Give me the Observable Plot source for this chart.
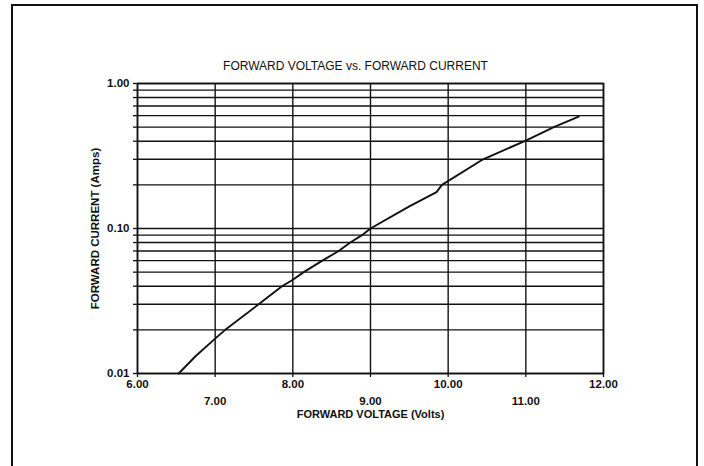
<!DOCTYPE html>
<html>
<head>
<meta charset="utf-8">
<script src="https://cdn.jsdelivr.net/npm/d3@7"></script>
<script src="https://cdn.jsdelivr.net/npm/@observablehq/plot@0.6"></script>
<style>
  html, body { margin: 0; padding: 0; background: #fff; }
  #wrap { position: relative; width: 704px; height: 466px; overflow: hidden; }
  #border { position: absolute; left: 11px; top: 4px; width: 687px; height: 480px; border: 2px solid #111; box-sizing: border-box; pointer-events: none; }
  svg { font-family: "Liberation Sans", Arial, sans-serif; }
</style>
</head>
<body>
<div id="wrap"><div id="border"></div></div>
<script>
// Data
const voltage = [6.53, 6.75, 7.0, 7.13, 7.56, 7.86, 8.0, 8.14, 8.38, 8.59, 8.74, 8.89, 9.0, 9.5, 9.85, 9.92, 10.45, 11.0, 11.36, 11.68];
const current = [0.01, 0.0132, 0.0174, 0.02, 0.03, 0.04, 0.0443, 0.05, 0.06, 0.07, 0.08, 0.09, 0.1, 0.142, 0.178, 0.2, 0.3, 0.404, 0.5, 0.59];

const xTicksUpper = [6, 8, 10, 12];
const xTicksLower = [7, 9, 11];
const xGrid = [6, 7, 8, 9, 10, 11, 12];
const yLabelTicks = [0.01, 0.1, 1];
const yGrid = [0.01, 0.02, 0.03, 0.04, 0.05, 0.06, 0.07, 0.08, 0.09, 0.1, 0.2, 0.3, 0.4, 0.5, 0.6, 0.7, 0.8, 0.9, 1];

const titleText = "FORWARD VOLTAGE vs. FORWARD CURRENT";
const xLabelText = "FORWARD VOLTAGE (Volts)";
const yLabelText = "FORWARD CURRENT (Amps)";

const data = voltage.map((v, i) => ({v, i: current[i]}));
const fmt = d3.format(".2f");

const chart = Plot.plot({
  width: 704,
  height: 466,
  marginLeft: 137,
  marginRight: 101,
  marginTop: 83,
  marginBottom: 93,
  style: {background: "transparent", color: "#111", fontFamily: "'Liberation Sans', Arial, sans-serif"},
  x: {domain: [6, 12]},
  y: {type: "log", domain: [0.01, 1]},
  marks: [
    Plot.ruleY(yGrid, {stroke: "#111", strokeWidth: 1.4}),
    Plot.ruleX(xGrid, {stroke: "#111", strokeWidth: 1.4}),
    Plot.frame({stroke: "#111", strokeWidth: 1.6}),
    Plot.axisY(yGrid, {tickSize: 4, tickFormat: () => "", label: null, strokeWidth: 1.3}),
    Plot.axisY(yLabelTicks, {tickSize: 4, tickPadding: 4, tickFormat: fmt, label: null, fontSize: 11.5, fontWeight: "bold"}),
    Plot.axisX(xGrid, {tickSize: 4, tickFormat: () => "", label: null, strokeWidth: 1.3}),
    Plot.axisX(xTicksUpper, {tickSize: 0, tickPadding: 6, tickFormat: fmt, label: null, fontSize: 11.5, fontWeight: "bold"}),
    Plot.axisX(xTicksLower, {tickSize: 0, tickPadding: 23, tickFormat: fmt, label: null, fontSize: 11.5, fontWeight: "bold"}),
    Plot.line(data, {x: "v", y: "i", stroke: "#111", strokeWidth: 1.9}),
    Plot.text([titleText], {frameAnchor: "top", dy: -17, dx: -15, fontSize: 12, fill: "#111", lineAnchor: "middle", textAnchor: "middle", style: {letterSpacing: "1.2px"}}),
    Plot.text([xLabelText], {frameAnchor: "bottom", dy: 41, fontSize: 11, fill: "#111", lineAnchor: "middle", textAnchor: "middle", fontWeight: "bold", style: {letterSpacing: "0.3px"}}),
    Plot.text([yLabelText], {frameAnchor: "left", dx: -42, rotate: -90, fontSize: 11.5, fill: "#111", lineAnchor: "middle", textAnchor: "middle", fontWeight: "bold", style: {letterSpacing: "1px"}})
  ]
});
chart.style.position = "absolute";
chart.style.left = "0";
chart.style.top = "0";
document.getElementById("wrap").appendChild(chart);
</script>
</body>
</html>
